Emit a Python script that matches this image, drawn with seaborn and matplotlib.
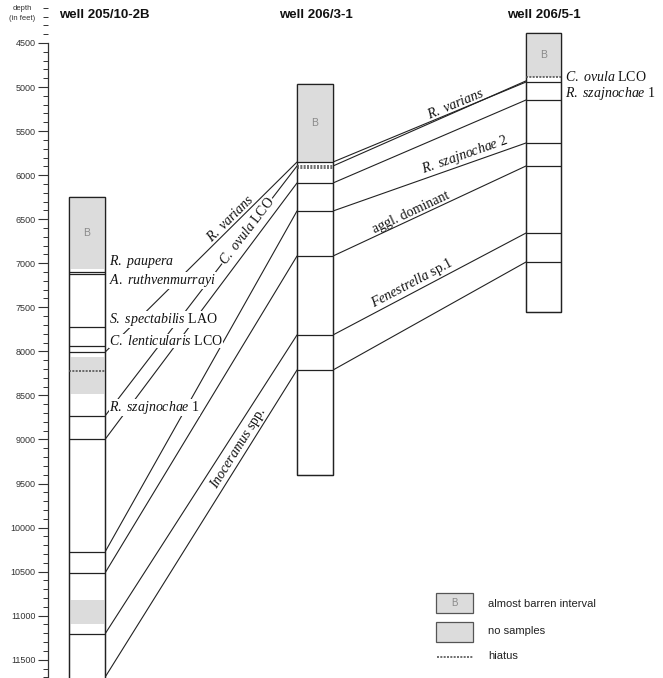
import numpy as np
import pandas as pd
import matplotlib
matplotlib.use("Agg")
import matplotlib.pyplot as plt
import seaborn as sns
from matplotlib.patches import Rectangle
from matplotlib.ticker import MultipleLocator

# ---- data (depths in feet) ----
well_names = ["well 205/10-2B", "well 206/3-1", "well 206/5-1"]
well_top = [6250, 4970, 4390]
well_base = [11800, 9400, 7550]

barren = [(6250, 7060), (4970, 5851), (4390, 4886)]       # "B" intervals
no_samples_w1 = [(8060, 8480), (10820, 11095)]

bounds_w1 = [7095, 7120, 7720, 7940, 8010, 8734, 9000, 10278, 10516, 11208]
bounds_w2 = [5851, 6089, 6407, 6918, 7814, 8212]
bounds_w3 = [4943, 5147, 5635, 5896, 6657, 6986]
hiatus_w1 = [8225]
hiatus_w2 = [5893, 5916]
hiatus_w3 = [4886]

# correlation lines: depth in left well -> depth in right well
corr12_left = [8010, 8734, 9000, 10278, 10516, 11208, 11700]
corr12_right = [5851, 5896, 6089, 6407, 6918, 7814, 8212]
corr23_left = [5851, 5896, 6089, 6407, 6918, 7814, 8212]
corr23_right = [4943, 4930, 5147, 5635, 5896, 6657, 6986]

w1_labels = [r"$\it{R.}$ $\it{paupera}$", r"$\it{A.}$ $\it{ruthvenmurrayi}$",
             r"$\it{S.}$ $\it{spectabilis}$ LAO", r"$\it{C.}$ $\it{lenticularis}$ LCO",
             r"$\it{R.}$ $\it{szajnochae}$ 1"]
w3_labels = [r"$\it{C.}$ $\it{ovula}$ LCO", r"$\it{R.}$ $\it{szajnochae}$ 1"]

corr12_names = {0: r"$\it{R.}$ $\it{varians}$", 1: r"$\it{C.}$ $\it{ovula}$ LCO",
                6: r"$\it{Inoceramus}$ spp."}
corr23_names = {0: r"$\it{R.}$ $\it{varians}$", 3: r"$\it{R.}$ $\it{szajnochae}$ 2",
                4: "aggl. dominant", 5: r"$\it{Fenestrella}$ sp.1"}

# ---- layout (pixels) ----
W, H = 663, 678
well_x = [(69, 105), (297, 333), (526, 561)]
title_x = [104, 316, 544]
w1_label_y = [261, 280, 319, 341, 407]
w3_label_y = [77, 94]
corr12_t = {0: (0.68, "bottom"), 1: (0.74, "center"), 6: (0.73, "bottom")}
corr23_t = {0: (0.65, "bottom"), 3: (0.70, "bottom"), 4: (0.42, "bottom"), 5: (0.43, "bottom")}


def px2d(y):
    return 4500 + (y - 43) / 0.0881


sns.set_theme(style="white")
plt.rcParams["font.family"] = ["Liberation Sans", "DejaVu Sans"]
plt.rcParams["mathtext.fontset"] = "custom"
plt.rcParams["mathtext.rm"] = "Liberation Serif"
plt.rcParams["mathtext.it"] = "Liberation Serif:italic"

fig = plt.figure(figsize=(W / 100, H / 100), dpi=100)
ax = fig.add_axes([0, 0, 1, 1])
ax.set_xlim(0, W)
ax.set_ylim(px2d(H), px2d(0))

ink = "#222222"
gray = "#dcdcdc"

# correlation lines through seaborn
rows = []
for i, (a, b) in enumerate(zip(corr12_left, corr12_right)):
    rows += [dict(line=f"a{i}", x=well_x[0][1], depth=a), dict(line=f"a{i}", x=well_x[1][0], depth=b)]
for i, (a, b) in enumerate(zip(corr23_left, corr23_right)):
    rows += [dict(line=f"b{i}", x=well_x[1][1], depth=a), dict(line=f"b{i}", x=well_x[2][0], depth=b)]
df = pd.DataFrame(rows)
sns.lineplot(data=df, x="x", y="depth", units="line", estimator=None, sort=False,
             color=ink, lw=0.8, ax=ax, legend=False, zorder=1)
ax.set_xlim(0, W)
ax.set_ylim(px2d(H), px2d(0))
ax.set_xlabel("")
ax.set_ylabel("")

# wells
for k in range(3):
    x0, x1 = well_x[k]
    top, base = well_top[k], well_base[k]
    ax.add_patch(Rectangle((x0, top), x1 - x0, base - top, facecolor="white",
                           edgecolor=ink, lw=0.9, zorder=2))
    b0, b1 = barren[k]
    ax.add_patch(Rectangle((x0, b0), x1 - x0, b1 - b0, facecolor=gray,
                           edgecolor="none", zorder=2.5))
    ax.text((x0 + x1) / 2, (b0 + b1) / 2, "B", ha="center", va="center",
            fontsize=7.5, color="#8a8a8a", zorder=3)
    ax.add_patch(Rectangle((x0, top), x1 - x0, base - top, facecolor="none",
                           edgecolor=ink, lw=0.9, zorder=3))
    ax.text(title_x[k], px2d(15), well_names[k], ha="center", va="center",
            fontsize=9.5, fontweight="bold", color="#111111")

for a, b in no_samples_w1:
    ax.add_patch(Rectangle((well_x[0][0], a), well_x[0][1] - well_x[0][0], b - a,
                           facecolor=gray, edgecolor="none", zorder=2.5))

for k, bl in enumerate([bounds_w1, bounds_w2, bounds_w3]):
    ax.hlines(bl, well_x[k][0], well_x[k][1], color=ink, lw=0.9, zorder=3)
for k, hl in enumerate([hiatus_w1, hiatus_w2, hiatus_w3]):
    ax.hlines(hl, well_x[k][0], well_x[k][1], color="#555555", lw=1.2,
              linestyles=(0, (1.2, 0.8)), zorder=3)

# well labels
for lab, y in zip(w1_labels, w1_label_y):
    ax.text(well_x[0][1] + 4, px2d(y), lab, ha="left", va="center", fontsize=10,
            family="Liberation Serif", color="#111111", zorder=5,
            bbox=dict(facecolor="white", edgecolor="none", pad=0.0))
for lab, y in zip(w3_labels, w3_label_y):
    ax.text(well_x[2][1] + 4, px2d(y), lab, ha="left", va="center", fontsize=10,
            family="Liberation Serif", color="#111111", zorder=5)


def line_label(xa, da, xb, db, t, va, text, mask):
    pa = ax.transData.transform((xa, da))
    pb = ax.transData.transform((xb, db))
    ang = np.degrees(np.arctan2(pb[1] - pa[1], pb[0] - pa[0]))
    kw = dict(bbox=dict(facecolor="white", edgecolor="none", pad=0.2)) if mask else {}
    ax.text(xa + t * (xb - xa), da + t * (db - da), text, rotation=ang,
            rotation_mode="anchor", ha="center", va=va, fontsize=10,
            family="Liberation Serif", color="#111111", zorder=5, **kw)


for i, name in corr12_names.items():
    t, va = corr12_t[i]
    line_label(well_x[0][1], corr12_left[i], well_x[1][0], corr12_right[i], t, va, name,
               va == "center")
for i, name in corr23_names.items():
    t, va = corr23_t[i]
    line_label(well_x[1][1], corr23_left[i], well_x[2][0], corr23_right[i], t, va, name,
               False)

# depth axis
for s in ["top", "right", "bottom"]:
    ax.spines[s].set_visible(False)
ax.spines["left"].set_position(("data", 48))
ax.spines["left"].set_bounds(4500, px2d(H))
ax.spines["left"].set_color("#333333")
ax.spines["left"].set_linewidth(0.9)
ax.yaxis.set_major_locator(MultipleLocator(500))
ax.yaxis.set_minor_locator(MultipleLocator(100))
ax.tick_params(axis="y", which="major", left=True, length=7, width=0.8,
               color="#333333", labelsize=6.5, labelcolor="#333333", pad=2)
ax.tick_params(axis="y", which="minor", left=True, length=3.5, width=0.7, color="#333333")
ax.tick_params(axis="x", bottom=False, labelbottom=False)
ax.set_yticks(np.arange(4500, 11501, 500))
ax.set_yticklabels([str(v) for v in range(4500, 11501, 500)])
ax.text(22, px2d(9), "depth", ha="center", va="center", fontsize=5.5, color="#333333")
ax.text(22, px2d(19), "(in feet)", ha="center", va="center", fontsize=5.5, color="#333333")

# legend
ax.add_patch(Rectangle((436, px2d(593)), 37, px2d(613) - px2d(593), facecolor=gray,
                       edgecolor="#555555", lw=0.9))
ax.text(454.5, px2d(603), "B", ha="center", va="center", fontsize=7, color="#8a8a8a")
ax.add_patch(Rectangle((436, px2d(622)), 37, px2d(642) - px2d(622), facecolor=gray,
                       edgecolor="#555555", lw=0.9))
ax.hlines(px2d(657), 437, 473, color="#555555", lw=1.2, linestyles=(0, (1.2, 0.8)))
for y, s in [(604, "almost barren interval"), (631, "no samples"), (656, "hiatus")]:
    ax.text(488, px2d(y), s, ha="left", va="center", fontsize=8, color="#222222")

fig.savefig("out.png", dpi=100)
